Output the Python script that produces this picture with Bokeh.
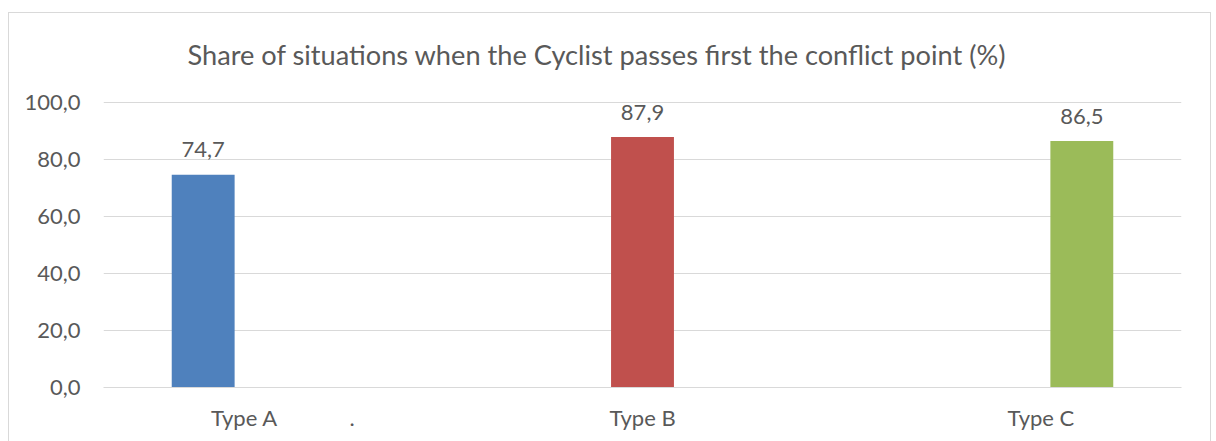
from bokeh.plotting import figure
from bokeh.models import (ColumnDataSource, FactorRange, Range1d, FixedTicker,
                          CustomJSTickFormatter)
from bokeh.transform import dodge
from bokeh.embed import file_html
from bokeh.resources import INLINE

# ---- data ----
NB = "\u00a0"
categories = ["Type A" + NB * 13 + ".", "Type B", NB * 14 + "Type C"]
values = [74.7, 87.9, 86.5]
bar_colors = ["#4f81bd", "#c0504d", "#9bbb59"]
y_ticks = [0, 20, 40, 60, 80, 100]
title_text = "Share of situations when the Cyclist passes first the conflict point (%)"

FONT = "Lato"
TXT = "#595959"
GRID = "#d9d9d9"
FS = "22px"

p = figure(
    width=1212, height=441,
    x_range=FactorRange(factors=categories, range_padding=0, factor_padding=0),
    y_range=Range1d(0, 100.4),
    output_backend="svg", toolbar_location=None,
    min_border_left=103, min_border_right=31,
    min_border_top=101, min_border_bottom=54,
)
# light outer chart-area border (drawn behind a transparent canvas)
g = "linear-gradient(#d9d9d9,#d9d9d9)"
p.styles = {
    "background-color": "white",
    "background-image": f"{g}, {g}, {g}",
    "background-size": "1px 100%, 1203px 1px, 1px 100%",
    "background-position": "8px 12px, 8px 12px, 1210px 12px",
    "background-repeat": "no-repeat",
}
p.background_fill_color = None
p.border_fill_color = None
p.outline_line_color = None

p.title.text = title_text
p.title.align = "left"
p.title.offset = 84
p.title.text_font = FONT
p.title.text_font_size = "27.2px"
p.title.text_font_style = "normal"
p.title.text_color = TXT
p.title.standoff = 62

# bars: one per category, placed at its series slot within the category
slot = [-0.2226, 0.0, 0.2226]
for i, cat in enumerate(categories):
    src = ColumnDataSource(dict(
        x=[cat], top=[values[i]],
        lab=[f"{values[i]:.1f}".replace(".", ",")],
    ))
    xs = dodge("x", slot[i], range=p.x_range)
    p.vbar(x=xs, top="top", bottom=0, width=0.175, source=src,
           fill_color=bar_colors[i], line_color=None)
    p.text(x=xs, y="top", text="lab", source=src, text_align="center",
           text_baseline="alphabetic", y_offset=-25,
           text_font={"value": FONT}, text_font_size=FS, text_color=TXT)

# y axis
p.yaxis.ticker = FixedTicker(ticks=y_ticks)
p.yaxis.formatter = CustomJSTickFormatter(code="return tick.toFixed(1).replace('.', ',');")
p.yaxis.axis_line_color = None
p.yaxis.major_tick_line_color = None
p.yaxis.major_tick_out = 0
p.yaxis.major_tick_in = 0
p.yaxis.minor_tick_line_color = None
p.yaxis.minor_tick_out = 0
p.yaxis.major_label_standoff = 23
p.yaxis.major_label_text_font = FONT
p.yaxis.major_label_text_font_size = FS
p.yaxis.major_label_text_color = TXT

# x axis
p.xaxis.axis_line_color = GRID
p.xaxis.axis_line_width = 1
p.xaxis.major_tick_line_color = None
p.xaxis.major_tick_out = 0
p.xaxis.major_tick_in = 0
p.xaxis.minor_tick_line_color = None
p.xaxis.major_label_standoff = 16
p.xaxis.major_label_text_font = FONT
p.xaxis.major_label_text_font_size = FS
p.xaxis.major_label_text_color = TXT

p.xgrid.grid_line_color = None
p.ygrid.grid_line_color = GRID
p.ygrid.grid_line_width = 1

open("out.html", "w").write(file_html(p, INLINE))
